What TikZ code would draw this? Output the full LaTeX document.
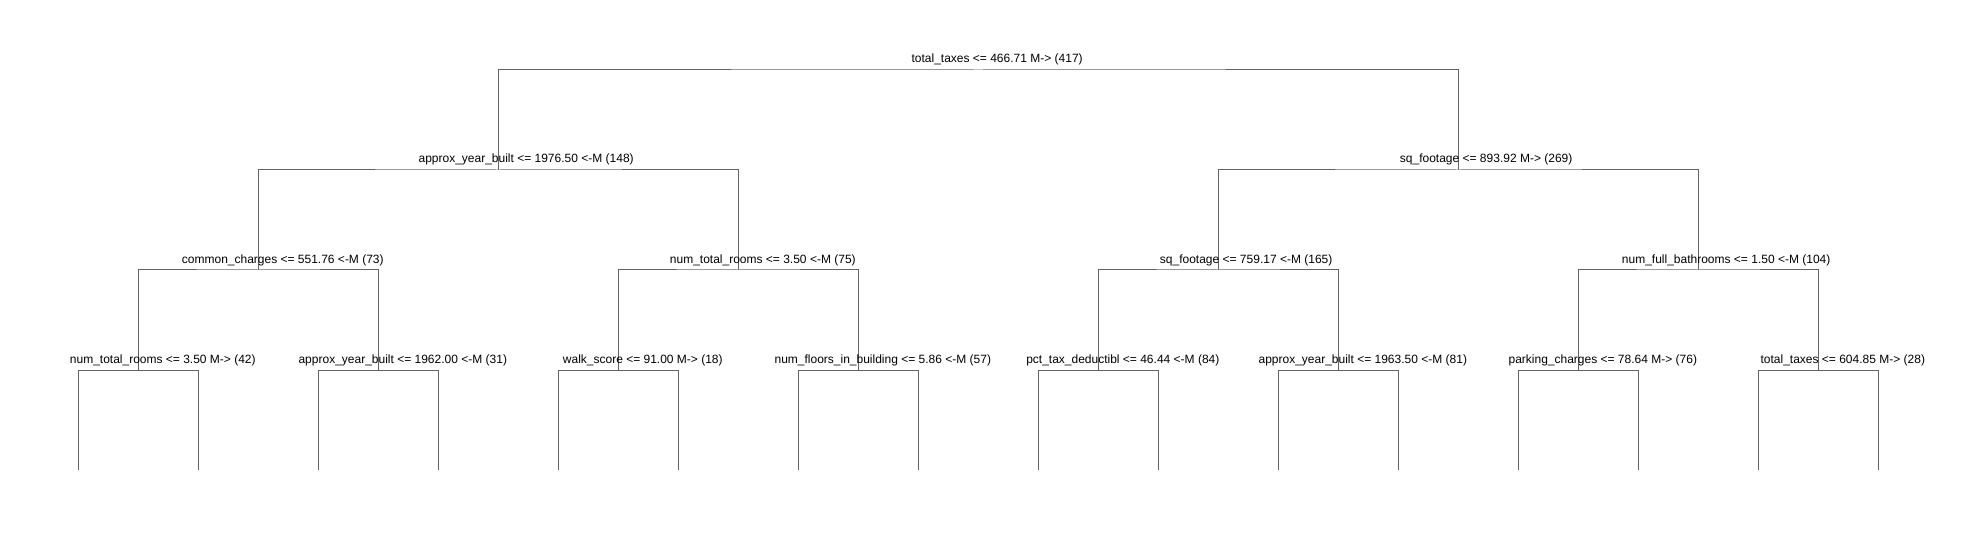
\documentclass[tikz,border=0pt]{standalone}
\usepackage{fontspec}
\usepackage{xcolor}
\newfontfamily\splitfont{Liberation Sans}
\definecolor{treegray}{RGB}{100,100,100}

\begin{document}
\begin{tikzpicture}[
  x=0.02cm, y=-0.02cm,
  branch/.style={draw=treegray, line width=0.02cm},
  split/.style={anchor=base, inner sep=0pt, yshift=0.14cm, font=\splitfont\fontsize{6.83}{8}\selectfont}
]
  \useasboundingbox (0,0) rectangle (1986,540);
  % split points, numbered like a heap
  \coordinate (t1) at (978.3,70);
  \coordinate (t2) at (498.3,170);
  \coordinate (t3) at (1458.3,170);
  \coordinate (t4) at (258.3,270);
  \coordinate (t5) at (738.3,270);
  \coordinate (t6) at (1218.3,270);
  \coordinate (t7) at (1698.3,270);
  \foreach \j in {0,...,7} {
    \pgfmathtruncatemacro\k{8+\j}
    \coordinate (t\k) at (138.3+240*\j,370.5);
  }
  % leaves
  \foreach \j in {0,...,15} {
    \pgfmathtruncatemacro\k{16+\j}
    \coordinate (t\k) at (78.3+120*\j,470);
  }
  % branches
  \foreach \k in {1,...,15} {
    \pgfmathtruncatemacro\a{2*\k}
    \pgfmathtruncatemacro\b{2*\k+1}
    \draw[branch] (t\a) |- (t\k) -| (t\b);
  }
  % split labels
  \node[split, xshift=-0.18cm] (l1) at (t1) {total\_taxes <= 466.71\rlap{\ M-> (417)}};
  \node[split] (l2) at (t2) {approx\_year\_built <= 1976.50\rlap{\ <-M (148)}};
  \node[split] (l3) at (t3) {sq\_footage <= 893.92\rlap{\ M-> (269)}};
  \node[split] (l4) at (t4) {common\_charges <= 551.76\rlap{\ <-M (73)}};
  \node[split] (l5) at (t5) {num\_total\_rooms <= 3.50\rlap{\ <-M (75)}};
  \node[split] (l6) at (t6) {sq\_footage <= 759.17\rlap{\ <-M (165)}};
  \node[split] (l7) at (t7) {num\_full\_bathrooms <= 1.50\rlap{\ <-M (104)}};
  \node[split] (l8) at (t8) {num\_total\_rooms <= 3.50\rlap{\ M-> (42)}};
  \node[split] (l9) at (t9) {approx\_year\_built <= 1962.00\rlap{\ <-M (31)}};
  \node[split] (l10) at (t10) {walk\_score <= 91.00\rlap{\ M-> (18)}};
  \node[split] (l11) at (t11) {num\_floors\_in\_building <= 5.86\rlap{\ <-M (57)}};
  \node[split] (l12) at (t12) {pct\_tax\_deductibl <= 46.44\rlap{\ <-M (84)}};
  \node[split] (l13) at (t13) {approx\_year\_built <= 1963.50\rlap{\ <-M (81)}};
  \node[split] (l14) at (t14) {parking\_charges <= 78.64\rlap{\ M-> (76)}};
  \node[split] (l15) at (t15) {total\_taxes <= 604.85\rlap{\ M-> (28)}};
\end{tikzpicture}
\end{document}
